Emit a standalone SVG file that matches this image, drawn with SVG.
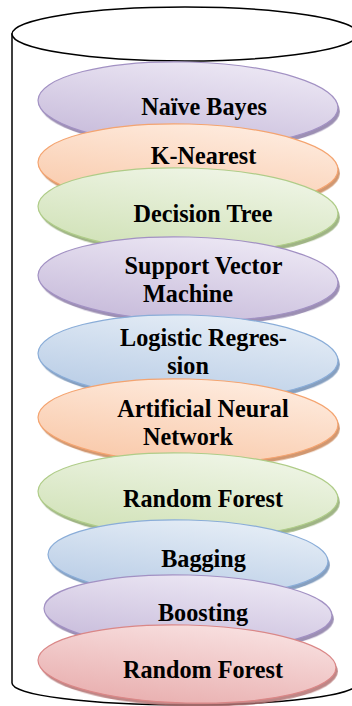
<svg xmlns="http://www.w3.org/2000/svg" width="352" height="706" viewBox="0 0 352 706">
  <style>
    .wall { fill: #ffffff; stroke: #000000; stroke-width: 1.5; }
    .label { font-family: "Liberation Serif", "Times New Roman", serif; font-weight: bold; font-size: 24.2px; fill: #000000; text-anchor: middle; }
    .disc { stroke-width: 1.2; }
    .shadow { filter: url(#soft); opacity: 0.85; }
    .purple .disc { fill: url(#gPurple); stroke: #a291c3; }
    .purple .shadow { fill: #8b7ca6; }
    .orange .disc { fill: url(#gOrange); stroke: #f4a470; }
    .orange .shadow { fill: #c98659; }
    .green .disc { fill: url(#gGreen); stroke: #afcc88; }
    .green .shadow { fill: #8fa86f; }
    .blue .disc { fill: url(#gBlue); stroke: #8aadd8; }
    .blue .shadow { fill: #718fb5; }
    .red .disc { fill: url(#gRed); stroke: #da8787; }
    .red .shadow { fill: #b37272; }
  </style>
  <defs>
    <filter id="soft" x="-10%" y="-20%" width="120%" height="140%">
      <feGaussianBlur stdDeviation="0.6"/>
    </filter>
    <linearGradient id="gPurple" x1="0.7" y1="0" x2="0.3" y2="1">
      <stop offset="0" stop-color="#ece7f4"/>
      <stop offset="1" stop-color="#c8bcdb"/>
    </linearGradient>
    <linearGradient id="gOrange" x1="0.7" y1="0" x2="0.3" y2="1">
      <stop offset="0" stop-color="#feebde"/>
      <stop offset="1" stop-color="#f9caab"/>
    </linearGradient>
    <linearGradient id="gGreen" x1="0.7" y1="0" x2="0.3" y2="1">
      <stop offset="0" stop-color="#eff5e6"/>
      <stop offset="1" stop-color="#d1e2b8"/>
    </linearGradient>
    <linearGradient id="gBlue" x1="0.7" y1="0" x2="0.3" y2="1">
      <stop offset="0" stop-color="#e5edf6"/>
      <stop offset="1" stop-color="#b9cde6"/>
    </linearGradient>
    <linearGradient id="gRed" x1="0.7" y1="0" x2="0.3" y2="1">
      <stop offset="0" stop-color="#f8e0e0"/>
      <stop offset="1" stop-color="#e9b0b0"/>
    </linearGradient>
  </defs>

  <!-- storage cylinder -->
  <g id="cylinder">
    <path class="wall" d="M12,34 L12,683 A173,22 0 0 0 358,683 L358,34 Z"/>
    <ellipse class="wall" cx="185" cy="34" rx="173" ry="27"/>
  </g>

  <!-- stacked discs, top to bottom -->
  <g id="naive-bayes" class="purple" transform="rotate(1.5 188 104)">
    <ellipse class="shadow" cx="190" cy="107.5" rx="150" ry="42"/>
    <ellipse class="disc" cx="188" cy="104" rx="150" ry="42"/>
  </g>
  <text class="label" x="204" y="115">Naïve Bayes</text>

  <g id="k-nearest" class="orange" transform="rotate(1.5 188 166)">
    <ellipse class="shadow" cx="190" cy="169.5" rx="150" ry="42"/>
    <ellipse class="disc" cx="188" cy="166" rx="150" ry="42"/>
  </g>
  <text class="label" x="203.5" y="164">K-Nearest</text>

  <g id="decision-tree" class="green" transform="rotate(1.5 188 210)">
    <ellipse class="shadow" cx="190" cy="213.5" rx="150" ry="42"/>
    <ellipse class="disc" cx="188" cy="210" rx="150" ry="42"/>
  </g>
  <text class="label" x="203" y="222">Decision Tree</text>

  <g id="svm" class="purple" transform="rotate(1.5 188 279)">
    <ellipse class="shadow" cx="190" cy="282.5" rx="150" ry="42"/>
    <ellipse class="disc" cx="188" cy="279" rx="150" ry="42"/>
  </g>
  <text class="label" x="203.5" y="274">Support Vector</text>
  <text class="label" x="188" y="302">Machine</text>

  <g id="logistic-regression" class="blue" transform="rotate(1.5 188 357)">
    <ellipse class="shadow" cx="190" cy="360.5" rx="150" ry="42"/>
    <ellipse class="disc" cx="188" cy="357" rx="150" ry="42"/>
  </g>
  <text class="label" x="203.5" y="345.5">Logistic Regres-</text>
  <text class="label" x="188" y="373.5">sion</text>

  <g id="ann" class="orange" transform="rotate(1.5 188 421)">
    <ellipse class="shadow" cx="190" cy="424.5" rx="150" ry="42"/>
    <ellipse class="disc" cx="188" cy="421" rx="150" ry="42"/>
  </g>
  <text class="label" x="203" y="417">Artificial Neural</text>
  <text class="label" x="188" y="444.5">Network</text>

  <g id="random-forest-1" class="green" transform="rotate(1.5 188 495)">
    <ellipse class="shadow" cx="190" cy="498.5" rx="150" ry="42"/>
    <ellipse class="disc" cx="188" cy="495" rx="150" ry="42"/>
  </g>
  <text class="label" x="203" y="507">Random Forest</text>

  <g id="bagging" class="blue" transform="rotate(1.5 188 558)">
    <ellipse class="shadow" cx="190" cy="561.5" rx="140" ry="38"/>
    <ellipse class="disc" cx="188" cy="558" rx="140" ry="38"/>
  </g>
  <text class="label" x="203.5" y="567">Bagging</text>

  <g id="boosting" class="purple" transform="rotate(1.5 188 612)">
    <ellipse class="shadow" cx="190" cy="615.5" rx="144" ry="37"/>
    <ellipse class="disc" cx="188" cy="612" rx="144" ry="37"/>
  </g>
  <text class="label" x="203" y="621">Boosting</text>

  <g id="random-forest-2" class="red" transform="rotate(1.5 187 664)">
    <ellipse class="shadow" cx="189" cy="667.5" rx="149" ry="39"/>
    <ellipse class="disc" cx="187" cy="664" rx="149" ry="39"/>
  </g>
  <text class="label" x="203" y="677.5">Random Forest</text>
</svg>
